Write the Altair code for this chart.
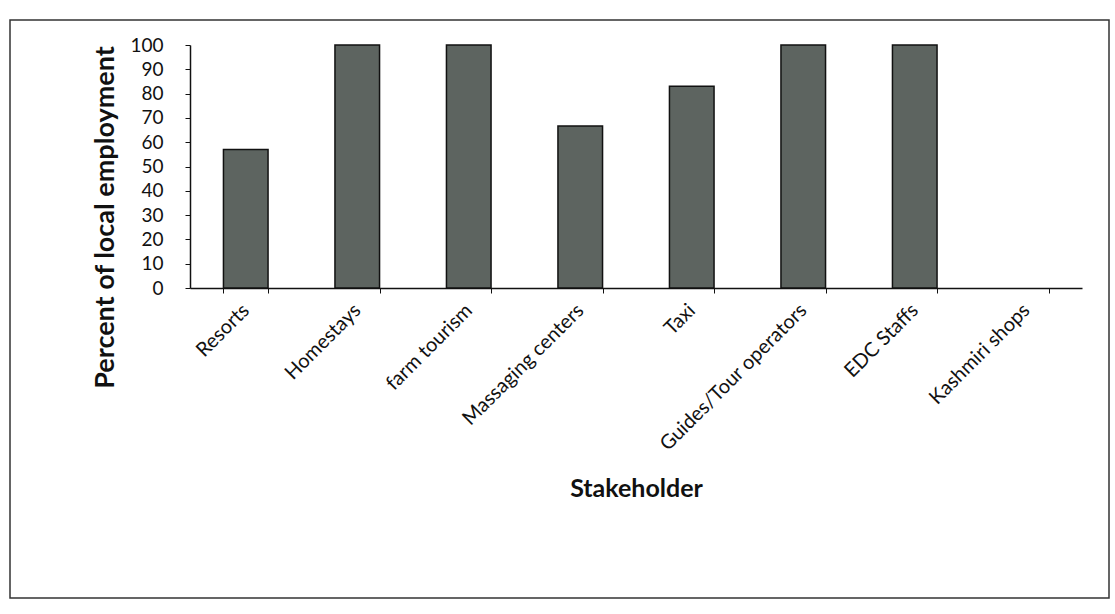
import altair as alt
import pandas as pd

stakeholders = ["Resorts", "Homestays", "farm tourism", "Massaging centers", "Taxi",
                "Guides/Tour operators", "EDC Staffs", "Kashmiri shops"]
percent_local = [57, 100, 100, 66.7, 83, 100, 100, 0]

df = pd.DataFrame({"Stakeholder": stakeholders, "Percent": percent_local})

W, H = 892, 243
FONT = "Lato"

bars = alt.Chart(df).mark_bar(
    color="#5d6460", stroke="#111111", strokeWidth=1.5
).encode(
    x=alt.X("Stakeholder:N", sort=stakeholders,
            scale=alt.Scale(paddingInner=0.6, paddingOuter=0.3),
            axis=alt.Axis(title="Stakeholder", labelAngle=-45, labelAlign="right",
                          labelBaseline="middle", labelPadding=14, labelFontSize=20,
                          labelLimit=400,
                          labelFont=FONT, labelColor="#111111", tickBand="extent",
                          tickSize=5, tickColor="#111111", domainColor="#111111",
                          domainWidth=1.5, titleFont=FONT, titleFontSize=25,
                          titleFontWeight="bold", titleColor="#111111",
                          titleY=200, titleBaseline="middle")),
    y=alt.Y("Percent:Q", scale=alt.Scale(domain=[0, 100]),
            axis=alt.Axis(title="Percent of local employment", values=list(range(0, 101, 10)),
                          labelFontSize=19, labelFont=FONT, labelColor="#111111",
                          labelPadding=22, tickSize=5, tickColor="#111111",
                          domainColor="#111111", domainWidth=1.5, grid=False,
                          titleFont=FONT, titleFontSize=27, titleFontWeight="bold",
                          titleColor="#111111", titleX=-85, titleY=172,
                          titleAngle=270, titleAlign="center", titleBaseline="middle")),
    strokeOpacity=alt.condition(alt.datum.Percent > 0, alt.value(1), alt.value(0)),
)

frame = alt.Chart(pd.DataFrame({"a": [0]})).mark_rect(
    fill=None, stroke="#333333", strokeWidth=1.5, clip=False
).encode(
    x=alt.value(-180), x2=alt.value(919), y=alt.value(-25), y2=alt.value(553)
)

chart = alt.layer(frame, bars).properties(
    width=W, height=H,
    autosize=alt.AutoSizeParams(type="none"),
    padding={"left": 190, "top": 45, "right": 33, "bottom": 326},
    background="white",
).configure_view(stroke=None)

chart.save("out.html", embed_options={"renderer": "svg", "actions": False})
